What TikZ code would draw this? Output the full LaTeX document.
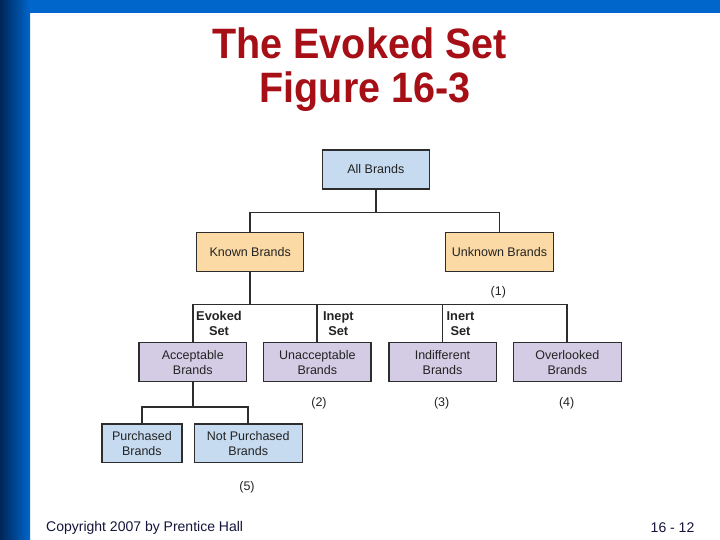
\documentclass[tikz,border=0pt]{standalone}
\usepackage{fontspec}
\setmainfont{Liberation Sans}
\usetikzlibrary{positioning}
\definecolor{barblue}{RGB}{0,102,204}
\definecolor{bardark}{RGB}{0,38,88}
\definecolor{titlered}{RGB}{165,15,21}
\definecolor{bluefill}{RGB}{198,218,240}
\definecolor{orangefill}{RGB}{251,218,166}
\definecolor{purplefill}{RGB}{212,204,228}
\definecolor{edgegray}{RGB}{45,45,45}
\definecolor{txtgray}{RGB}{35,35,35}
\definecolor{footnavy}{RGB}{20,20,60}
\tikzset{
  boxbase/.style={draw=edgegray, line width=1.5pt, inner sep=0pt, align=center,
    text=txtgray, font=\fontsize{12.5}{15}\selectfont},
  bluebox/.style={boxbase, fill=bluefill},
  orangebox/.style={boxbase, fill=orangefill},
  purplebox/.style={boxbase, fill=purplefill},
  conn/.style={draw=edgegray, line width=1.8pt},
  setlabel/.style={align=center, inner sep=0pt, text=txtgray,
    font=\fontsize{12.8}{15}\selectfont\bfseries},
  numlabel/.style={inner sep=0pt, text=txtgray, font=\fontsize{12.5}{15}\selectfont},
  titletext/.style={inner sep=0pt, anchor=base, text=titlered,
    font=\fontsize{42.5}{44}\selectfont\bfseries, xscale=0.93},
  foottext/.style={inner sep=0pt, text=footnavy, font=\fontsize{14}{16}\selectfont}
}
\begin{document}
\begin{tikzpicture}[x=1pt,y=-1pt]
\useasboundingbox (0,0) rectangle (720,540);
\fill[white] (0,0) rectangle (720,540);
% bars
\fill[barblue] (0,0) rectangle (720,13);
\shade[left color=bardark, right color=barblue] (0,0) rectangle (30,540);
% title
\node[titletext] (t1) at (359.5,58.8) {The Evoked Set};
\node[titletext] (t2) at (365,102.5) {Figure 16-3};
% boxes
\node[bluebox, minimum width=107pt, minimum height=39pt] (all) at (375.8,169.5) {All Brands};
\node[orangebox, minimum width=107pt, minimum height=39pt] (known) at (250.2,252.2) {Known Brands};
\node[orangebox, minimum width=107.6pt, minimum height=39pt] (unknown) at (499.5,252.2) {Unknown Brands};
\node[purplebox, minimum width=107.5pt, minimum height=39pt] (accept) at (192.8,362.2) {Acceptable\\Brands};
\node[purplebox, minimum width=107.8pt, minimum height=39pt] (unaccept) at (317.3,362.2) {Unacceptable\\Brands};
\node[purplebox, minimum width=107.5pt, minimum height=39pt] (indiff) at (442.5,362.2) {Indifferent\\Brands};
\node[purplebox, minimum width=108pt, minimum height=39pt] (overl) at (567.3,362.2) {Overlooked\\Brands};
\node[bluebox, minimum width=79.7pt, minimum height=38.3pt] (purch) at (141.9,443.2) {Purchased\\Brands};
\node[bluebox, minimum width=108pt, minimum height=38.3pt] (notpurch) at (248.3,443.2) {Not Purchased\\Brands};
% junctions
\coordinate (j1) at (375.8,212.5);
\coordinate (j2) at (250.2,304.5);
\coordinate (j3) at (192.8,407.3);
% connectors
\draw[conn] (all.south) -- (j1);
\draw[conn] (known.north) |- (j1) -| (unknown.north);
\draw[conn] (known.south) -- (j2);
\draw[conn] (accept.north) |- (j2) -| (overl.north);
\draw[conn] (unaccept.north) -- (unaccept.north |- j2);
\draw[conn] (indiff.north) -- (indiff.north |- j2);
\draw[conn] (accept.south) -- (j3);
\draw[conn] (purch.north) |- (j3) -| (notpurch.north);
% set labels
\node[setlabel] (evoked) at (219,323.2) {Evoked\\Set};
\node[setlabel] (inept) at (338.3,323.2) {Inept\\Set};
\node[setlabel] (inert) at (460.5,323.2) {Inert\\Set};
% numbers
\node[numlabel] (n1) at (498.3,292.5) {(1)};
\node[numlabel] (n2) at (319,402.8) {(2)};
\node[numlabel] (n3) at (441.7,402.8) {(3)};
\node[numlabel] (n4) at (566.7,403) {(4)};
\node[numlabel] (n5) at (247,487) {(5)};
% footer
\node[foottext, anchor=west] (copy) at (46,527.5) {Copyright 2007 by Prentice Hall};
\node[foottext, anchor=east] (page) at (694.5,527.5) {16 - 12};
\end{tikzpicture}
\end{document}
